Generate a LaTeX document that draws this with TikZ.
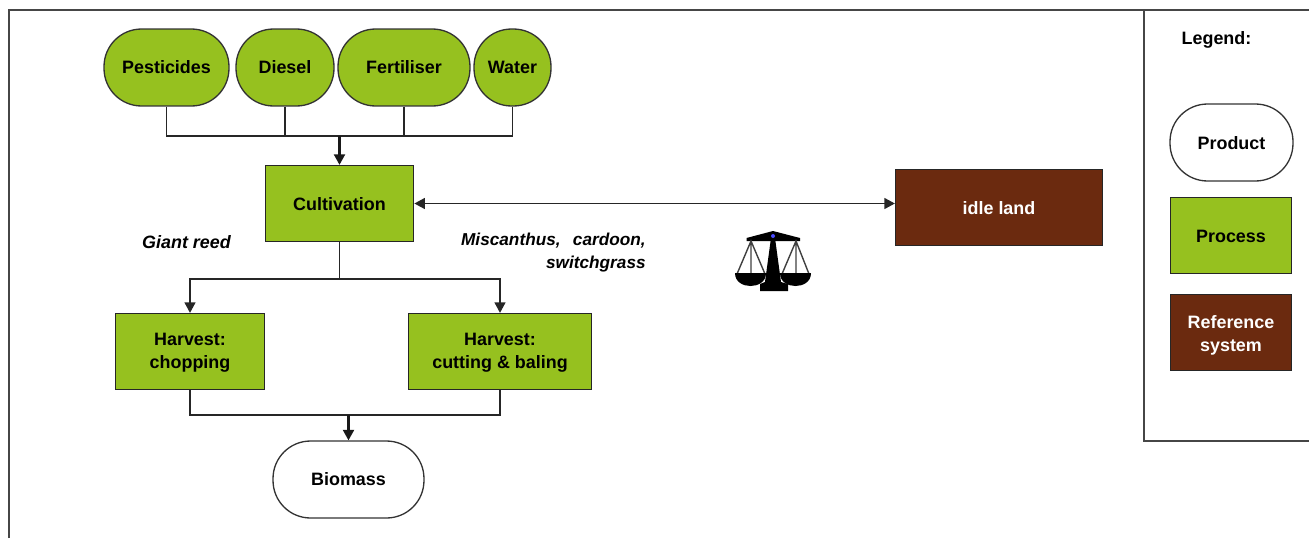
\documentclass[tikz,border=0pt]{standalone}
\usepackage{fontspec}
\setmainfont{Liberation Sans}
\usepackage{xcolor}
\usetikzlibrary{shapes,arrows.meta,positioning,calc}
\definecolor{processgreen}{RGB}{150,193,31}
\definecolor{refbrown}{RGB}{107,42,15}
\definecolor{framegrey}{RGB}{70,70,70}
\newcommand{\nudge}[1]{\rule{0pt}{#1pt}}
\tikzset{
	lbl/.style={font=\fontsize{10.2}{13}\selectfont\bfseries, align=center, inner sep=0pt},
	product/.style={lbl, draw=black!80, line width=0.75pt, fill=white, rounded corners=0.75cm, minimum height=1.54cm},
	input/.style={product, fill=processgreen},
	process/.style={lbl, draw=black!85, line width=0.75pt, fill=processgreen, minimum height=1.52cm},
	refsys/.style={lbl, draw=black!85, line width=0.75pt, fill=refbrown, text=white, minimum height=1.52cm},
	tip/.tip={Triangle[length=0.21cm, width=0.22cm]},
	link/.style={draw=black!85, line width=0.75pt},
	flow/.style={draw=black!90, line width=1.2pt, -tip},
	species/.style={font=\fontsize{10.2}{12.6}\selectfont\bfseries\itshape, inner sep=0pt}
}

\begin{document}
\begin{tikzpicture}[x=0.02cm,y=-0.02cm]
	\useasboundingbox (0,0) rectangle (1309,538);
	
	% Outer frame and legend panel
	\coordinate (framebl) at (9,538);
	\coordinate (frametl) at (9,10);
	\coordinate (frametr) at (1309,10);
	\coordinate (legendt) at (1144,10);
	\coordinate (legendb) at (1144,441);
	\coordinate (legendr) at (1309,441);
	\draw[framegrey, line width=0.9pt] (framebl) -- (frametl) -- (frametr);
	\draw[framegrey, line width=0.9pt] (legendt) -- (legendb) -- (legendr);
	
	% Inputs
	\node[input, minimum width=2.5cm] (pesticides) at (166.5,67.5) {Pesticides};
	\node[input, minimum width=1.96cm] (diesel) at (285,67.5) {Diesel};
	\node[input, minimum width=2.64cm] (fertiliser) at (404,67.5) {Fertiliser};
	\node[input, minimum width=1.54cm] (water) at (512.5,67.5) {Water};
	
	% Processes
	\node[process, minimum width=2.97cm] (cultivation) at (339.5,203.5) {\nudge{8.5}Cultivation};
	\node[process, minimum width=2.98cm] (chopping) at (190,351.5) {\nudge{8.5}Harvest:\\chopping};
	\node[process, minimum width=3.66cm] (baling) at (500,351.5) {\nudge{8.5}Harvest:\\cutting \& baling};
	\node[product, minimum width=3.02cm] (biomass) at (348.5,479.5) {Biomass};
	\node[refsys, minimum width=4.14cm] (idle) at (999,207.5) {\nudge{8.5}idle land};
	
	% Species labels
	\node[species] (reed) at (186.5,242) {Giant reed};
	\node[species, font=\fontsize{9.8}{12.6}\selectfont\bfseries\itshape, align=right, anchor=east] (misc) at (646,252.5) {Miscanthus,\hspace{7pt}cardoon,\\switchgrass};
	
	% Legend
	\node[lbl] (legend) at (1216.5,39.5) {Legend:};
	\node[product, minimum width=2.46cm] (legproduct) at (1231.5,142.5) {\nudge{8.5}Product};
	\node[process, minimum width=2.42cm] (legprocess) at (1231,235.5) {\nudge{8.5}Process};
	\node[refsys, minimum width=2.42cm] (legref) at (1231,332.5) {\nudge{10.9}Reference\\system};
	
	% Connections
	\coordinate (topbus) at (339.5,136);
	\coordinate (midbus) at (339.5,279);
	\coordinate (lowbus) at (348.5,415);
	\draw[link] (pesticides.south) |- (topbus) (diesel.south) |- (topbus) (fertiliser.south) |- (topbus) (water.south) |- (topbus);
	\draw[flow] (topbus) -- (cultivation.north);
	\draw[link] (cultivation.south) -- (midbus);
	\draw[link, -tip] (midbus) -| (chopping.north);
	\draw[link, -tip] (midbus) -| (baling.north);
	\draw[link] (chopping.south) |- (lowbus) (baling.south) |- (lowbus);
	\draw[flow] (lowbus) -- (biomass.north);
	\draw[link, tip-tip] (cultivation.east) -- (idle.west |- cultivation.east);
	
	% Scales symbol
	\fill (746.5,238) -- (773,231) -- (800,238) -- (800,241) -- (746.5,241) -- cycle;
	\fill (771,238) -- (775,238) -- (781,282) -- (788,284) -- (788,291) -- (760,291) -- (760,284) -- (765,282) -- cycle;
	\draw[black!75, line width=0.8pt] (737,274) -- (751,241) -- (765,274) (751,241) -- (751,274);
	\draw[black!75, line width=0.8pt] (782,274) -- (796,241) -- (809,274) (796,241) -- (796,274);
	\fill (735,273) -- (766,273) .. controls (766,282) and (758,286) .. (750.5,286) .. controls (743,286) and (735,282) .. (735,273) -- cycle;
	\fill (780,273) -- (811,273) .. controls (811,282) and (803,286) .. (795.5,286) .. controls (788,286) and (780,282) .. (780,273) -- cycle;
	\fill[blue!70!white] (773,236) circle (2);
\end{tikzpicture}
\end{document}
